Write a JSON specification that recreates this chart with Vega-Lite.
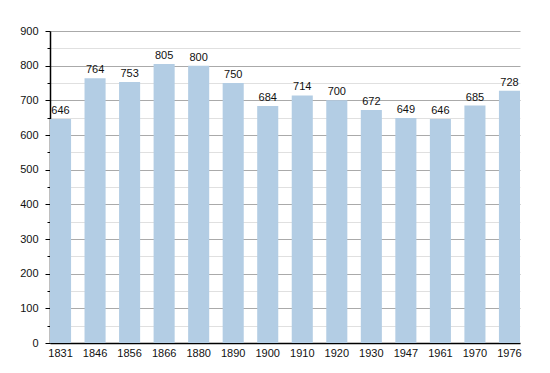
{
  "$schema": "https://vega.github.io/schema/vega-lite/v6.json",
  "width": 470,
  "height": 312,
  "autosize": {"type": "none"},
  "padding": {"left": 50, "top": 31, "right": 30, "bottom": 30},
  "background": "white",
  "config": {
    "view": {"stroke": null},
    "font": "Liberation Sans",
    "axis": {"labelFont": "Liberation Sans", "labelFontSize": 11, "labelColor": "#111"}
  },
  "data": {
    "values": [
      {"year": "1831", "pop": 646},
      {"year": "1846", "pop": 764},
      {"year": "1856", "pop": 753},
      {"year": "1866", "pop": 805},
      {"year": "1880", "pop": 800},
      {"year": "1890", "pop": 750},
      {"year": "1900", "pop": 684},
      {"year": "1910", "pop": 714},
      {"year": "1920", "pop": 700},
      {"year": "1930", "pop": 672},
      {"year": "1947", "pop": 649},
      {"year": "1961", "pop": 646},
      {"year": "1970", "pop": 685},
      {"year": "1976", "pop": 728}
    ]
  },
  "encoding": {
    "x": {
      "field": "year", "type": "nominal", "sort": null,
      "scale": {"paddingInner": 0.39, "paddingOuter": 0},
      "axis": {"title": null, "labelAngle": 0, "ticks": false, "domainColor": "#000", "domainWidth": 1.5, "labelPadding": 4, "grid": false}
    },
    "y": {
      "field": "pop", "type": "quantitative",
      "scale": {"domain": [0, 900], "nice": false},
      "axis": {
        "title": null,
        "values": [0, 50, 100, 150, 200, 250, 300, 350, 400, 450, 500, 550, 600, 650, 700, 750, 800, 850, 900],
        "labelExpr": "datum.value % 100 === 0 ? datum.label : ''",
        "grid": true,
        "gridColor": {"condition": {"test": "datum.value % 100 === 0", "value": "#aaaaaa"}, "value": "#e0e0e0"},
        "tickSize": {"condition": {"test": "datum.value % 100 === 0", "value": 5}, "value": 3},
        "tickColor": "#000",
        "domainColor": "#000",
        "domainWidth": 1.5,
        "labelPadding": 7
      }
    }
  },
  "layer": [
    {"mark": {"type": "bar", "color": "#b3cde4"}},
    {
      "mark": {"type": "text", "dy": -3, "baseline": "bottom", "fontSize": 11, "color": "#111"},
      "encoding": {"text": {"field": "pop", "type": "quantitative"}}
    }
  ]
}
